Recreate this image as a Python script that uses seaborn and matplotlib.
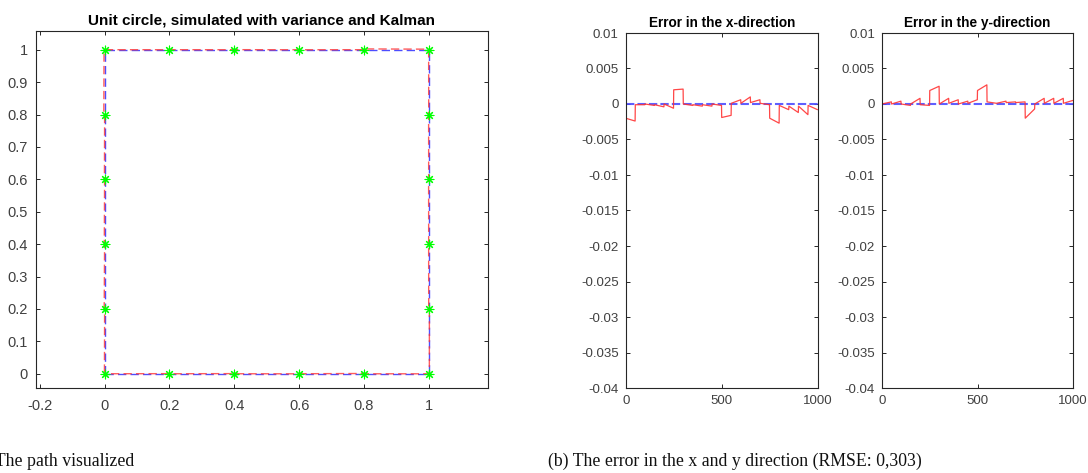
import numpy as np
import pandas as pd
import matplotlib
matplotlib.use("Agg")
import matplotlib.pyplot as plt
import seaborn as sns

# ---------------- data ----------------
# waypoints of the square path (counter-clockwise, starting at origin)
way_x = [0, 0.2, 0.4, 0.6, 0.8, 1, 1, 1, 1, 1, 1, 0.8, 0.6, 0.4, 0.2, 0, 0, 0, 0, 0, 0]
way_y = [0, 0, 0, 0, 0, 0, 0.2, 0.4, 0.6, 0.8, 1, 1, 1, 1, 1, 1, 0.8, 0.6, 0.4, 0.2, 0]

# measurement points (green asterisks)
meas_x = [0, 0.2, 0.4, 0.6, 0.8, 1, 1, 1, 1, 1, 1, 0.8, 0.6, 0.4, 0.2, 0, 0, 0, 0, 0]
meas_y = [0, 0, 0, 0, 0, 0, 0.2, 0.4, 0.6, 0.8, 1, 1, 1, 1, 1, 1, 0.8, 0.6, 0.4, 0.2]

# sample index where each of the 20 path segments starts / ends
seg_first = [0, 50, 100, 150, 200, 250, 300, 350, 400, 450,
             500, 550, 600, 650, 700, 750, 800, 850, 900, 950]
seg_last = [49, 99, 149, 199, 249, 299, 349, 399, 449, 499,
            549, 599, 649, 699, 749, 799, 849, 899, 949, 999]

# error in x at start / end of each segment
ex_start = [-0.0020, -0.0001, 0.0000, -0.0001, 0.0000, 0.0020, 0.0000, -0.0001, -0.0001, 0.0000,
            -0.0019, 0.0001, 0.0001, 0.0002, 0.0001, -0.0020, -0.0002, -0.0003, -0.0003, -0.0002]
ex_end = [-0.0024, -0.0001, -0.0002, -0.0004, -0.0006, 0.0021, -0.0002, -0.0003, -0.0003, -0.0002,
          -0.0016, 0.0006, 0.0010, 0.0006, -0.0001, -0.0027, -0.0008, -0.0012, -0.0015, -0.0008]

# error in y at start / end of each segment
ey_start = [0.0000, 0.0000, 0.0000, 0.0000, -0.0001, 0.0019, 0.0000, 0.0001, 0.0000, 0.0001,
            0.0019, 0.0003, 0.0001, 0.0002, 0.0002, -0.0020, 0.0000, 0.0001, 0.0001, 0.0001]
ey_end = [0.0003, 0.0004, -0.0002, 0.0008, -0.0002, 0.0025, 0.0008, 0.0006, 0.0004, 0.0006,
          0.0027, 0.0001, 0.0004, 0.0003, 0.0003, -0.0007, 0.0008, 0.0008, 0.0008, 0.0005]

left_xticks = [-0.2, 0, 0.2, 0.4, 0.6, 0.8, 1]
left_xlabels = ["-0.2", "0", "0.2", "0.4", "0.6", "0.8", "1"]
left_yticks = [0, 0.1, 0.2, 0.3, 0.4, 0.5, 0.6, 0.7, 0.8, 0.9, 1]
left_ylabels = ["0", "0.1", "0.2", "0.3", "0.4", "0.5", "0.6", "0.7", "0.8", "0.9", "1"]
err_xticks = [0, 500, 1000]
err_xlabels = ["0", "500", "1000"]
err_yticks = [0.01, 0.005, 0, -0.005, -0.01, -0.015, -0.02, -0.025, -0.03, -0.035, -0.04]
err_ylabels = ["0.01", "0.005", "0", "-0.005", "-0.01", "-0.015", "-0.02",
               "-0.025", "-0.03", "-0.035", "-0.04"]

title_left = "Unit circle, simulated with variance and Kalman"
title_ex = "Error in the x-direction"
title_ey = "Error in the y-direction"
caption_a = "(a) The path visualized"
caption_b = "(b) The error in the x and y direction (RMSE: 0,303)"

# ---------------- build tables ----------------
n = len(seg_first)
t_pts, ex_pts, ey_pts, px, py = [], [], [], [], []
for k in range(n):
    t_pts += [seg_first[k], seg_last[k]]
    ex_pts += [ex_start[k], ex_end[k]]
    ey_pts += [ey_start[k], ey_end[k]]
    px += [way_x[k] + ex_start[k], way_x[k + 1] + ex_end[k]]
    py += [way_y[k] + ey_start[k], way_y[k + 1] + ey_end[k]]
# first sample is at zero error
t_pts = [0] + t_pts
ex_pts = [0.0] + ex_pts
ey_pts = [0.0] + ey_pts

err_df = pd.DataFrame({"t": t_pts, "ex": ex_pts, "ey": ey_pts})
zero_df = pd.DataFrame({"t": [0, 1000], "z": [0, 0]})
ref_df = pd.DataFrame({"x": way_x, "y": way_y})
est_df = pd.DataFrame({"x": px, "y": py})
meas_df = pd.DataFrame({"x": meas_x, "y": meas_y})

# ---------------- style ----------------
sns.set_style("white")
plt.rcParams["font.family"] = ["Liberation Sans", "DejaVu Sans"]
plt.rcParams.update({
    "xtick.direction": "in", "ytick.direction": "in",
    "xtick.top": True, "ytick.right": True,
    "xtick.bottom": True, "ytick.left": True,
    "xtick.major.size": 3, "ytick.major.size": 3,
    "xtick.major.width": 0.7, "ytick.major.width": 0.7,
    "axes.edgecolor": "#262626", "axes.linewidth": 0.8,
    "xtick.color": "#262626", "ytick.color": "#262626",
})

BLUE = "#4d4dff"
RED = "#ff3333"
GREEN = "#00ff00"
TXT = "#404040"

fig = plt.figure(figsize=(10.88, 4.73), dpi=100)
ax0 = fig.add_axes([36 / 1088, 85 / 473, 452 / 1088, 357 / 473])
ax1 = fig.add_axes([625.7 / 1088, 85 / 473, 192 / 1088, 355 / 473])
ax2 = fig.add_axes([882 / 1088, 85 / 473, 191 / 1088, 355 / 473])

# ---- left: path ----
sns.lineplot(data=ref_df, x="x", y="y", sort=False, estimator=None, ax=ax0,
             color=BLUE, lw=1.0, linestyle=(0, (6, 3)))
sns.lineplot(data=est_df, x="x", y="y", sort=False, estimator=None, ax=ax0,
             color=RED, lw=1.0, alpha=0.8, linestyle=(4, (6, 3)))
sns.scatterplot(data=meas_df, x="x", y="y", ax=ax0, marker=(8, 2, 0),
                color=GREEN, s=40, linewidth=0.8, zorder=5)
ax0.set_xlim(-0.212, 1.183)
ax0.set_ylim(-0.044, 1.058)
ax0.set_xticks(left_xticks, left_xlabels)
ax0.set_yticks(left_yticks, left_ylabels)
ax0.set_title(title_left, fontsize=11, fontweight="bold", color="black", pad=5)
ax0.tick_params(labelsize=10.5, labelcolor=TXT)
ax0.tick_params(axis="x", pad=8)
ax0.tick_params(axis="y", pad=6)

# ---- right: errors ----
for ax, col, ttl in [(ax1, "ex", title_ex), (ax2, "ey", title_ey)]:
    sns.lineplot(data=zero_df, x="t", y="z", ax=ax, color=BLUE, lw=1.5,
                 linestyle=(0, (4, 1.5)), alpha=0.9)
    sns.lineplot(data=err_df, x="t", y=col, sort=False, estimator=None, ax=ax,
                 color=RED, lw=0.9, alpha=0.9)
    ax.set_xlim(0, 1000)
    ax.set_ylim(-0.04, 0.01)
    ax.set_xticks(err_xticks, err_xlabels)
    ax.set_yticks(err_yticks, err_ylabels)
    ax.set_title(ttl, fontsize=9.8, fontweight="bold", color="black", pad=4)
    ax.tick_params(labelsize=9.5, labelcolor=TXT)
    ax.tick_params(axis="x", pad=5)
    ax.tick_params(axis="y", pad=5)

for ax in (ax0, ax1, ax2):
    ax.set_xlabel("")
    ax.set_ylabel("")
    for s in ax.spines.values():
        s.set_visible(True)

fig.text(134 / 1088, 7 / 473, caption_a, ha="right", va="baseline",
         fontsize=12.75, family=["Liberation Serif", "DejaVu Serif"], color="#111111")
fig.text(548 / 1088, 7 / 473, caption_b, ha="left", va="baseline",
         fontsize=12.75, family=["Liberation Serif", "DejaVu Serif"], color="#111111")

fig.savefig("out.png", dpi=100)
